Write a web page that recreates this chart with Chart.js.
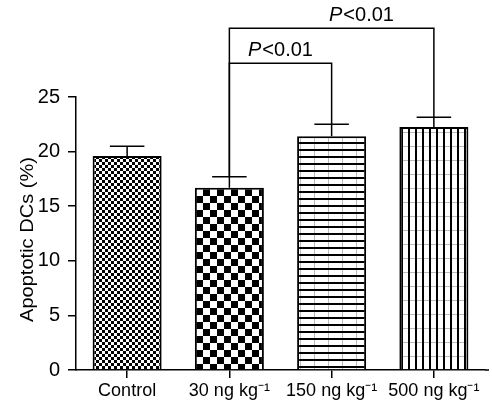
<!DOCTYPE html>
<html>
<head>
<meta charset="utf-8">
<script src="https://cdn.jsdelivr.net/npm/chart.js@4"></script>
<style>
  html, body { margin: 0; padding: 0; background: #fff; }
  canvas { display: block; }
</style>
</head>
<body>
<canvas id="apoChart" width="492" height="405"></canvas>
<script>
// donnees
const categories = ['Control', '30 ng kg\u207B\u00B9', '150 ng kg\u207B\u00B9', '500 ng kg\u207B\u00B9'];
const means = [19.6, 16.7, 21.4, 22.25];
const errors = [0.9, 1.0, 1.1, 0.9];
const yTicks = [0, 5, 10, 15, 20, 25];
const yTitle = 'Apoptotic DCs (%)';
// comparaisons : barre de depart, barre d'arrivee, hauteur du crochet (en %), texte
const compFrom = [1, 1];
const compTo = [2, 3];
const compLevel = [28.1, 31.3];
const compLabel = ['P<0.01', 'P<0.01'];

const FONT = "'Liberation Sans', Arial, sans-serif";

// motifs de remplissage
function makeTile(size, draw) {
    const c = document.createElement('canvas');
    c.width = size; c.height = size;
    const g = c.getContext('2d');
    g.fillStyle = '#fff';
    g.fillRect(0, 0, size, size);
    draw(g);
    return c;
}
const ctx = document.getElementById('apoChart').getContext('2d');

const fineChecker = ctx.createPattern(makeTile(6, g => {
    g.fillStyle = '#000';
    g.fillRect(0, 0, 3, 3);
    g.fillRect(3, 3, 3, 3);
}), 'repeat');

const coarseChecker = ctx.createPattern(makeTile(14, g => {
    g.fillStyle = '#000';
    g.fillRect(0, 0, 7, 7);
    g.fillRect(7, 7, 7, 7);
}), 'repeat');

const hLines = ctx.createPattern(makeTile(14, g => {
    g.fillStyle = '#bbb';
    g.fillRect(6, 0, 1, 14);
    g.fillStyle = '#000';
    g.fillRect(0, 2, 14, 2);
    g.fillRect(0, 9, 14, 2);
}), 'repeat');

const vLines = ctx.createPattern(makeTile(14, g => {
    g.fillStyle = '#bbb';
    g.fillRect(0, 6, 14, 1);
    g.fillStyle = '#000';
    g.fillRect(2, 0, 2, 14);
    g.fillRect(9, 0, 2, 14);
}), 'repeat');

// barres d'erreur + crochets de significativite + titre de l'axe y
const annotations = {
    id: 'annotations',
    afterDatasetsDraw(chart) {
        const c = chart.ctx;
        const y = chart.scales.y;
        const bars = chart.getDatasetMeta(0).data;
        c.save();
        c.strokeStyle = '#000';
        c.lineWidth = 1.5;

        // barres d'erreur (vers le haut seulement)
        bars.forEach((bar, i) => {
            const yTop = y.getPixelForValue(means[i] + errors[i]);
            const yBar = y.getPixelForValue(means[i]);
            const half = bar.width / 4;
            c.beginPath();
            c.moveTo(bar.x, yBar);
            c.lineTo(bar.x, yTop);
            c.moveTo(bar.x - half, yTop);
            c.lineTo(bar.x + half, yTop);
            c.stroke();
        });

        // crochets
        const textPos = [0.5, 0.646];
        compFrom.forEach((from, k) => {
            const to = compTo[k];
            const xL = bars[from].x;
            const xR = bars[to].x;
            const yL = y.getPixelForValue(compLevel[k]);
            c.beginPath();
            c.moveTo(xL, y.getPixelForValue(means[from] + errors[from]));
            c.lineTo(xL, yL);
            c.lineTo(xR, yL);
            c.lineTo(xR, y.getPixelForValue(means[to] + errors[to]));
            c.stroke();

            // texte : P en italique
            const label = compLabel[k];
            const first = label.charAt(0);
            const rest = label.slice(1);
            c.fillStyle = '#000';
            c.textBaseline = 'alphabetic';
            c.textAlign = 'left';
            c.font = 'italic 20px ' + FONT;
            const w1 = c.measureText(first).width + 1;
            c.font = '20px ' + FONT;
            const w2 = c.measureText(rest).width;
            const cx = xL + (xR - xL) * textPos[k];
            const x0 = cx - (w1 + w2) / 2;
            c.font = 'italic 20px ' + FONT;
            c.fillText(first, x0, yL - 7);
            c.font = '20px ' + FONT;
            c.fillText(rest, x0 + w1, yL - 7);
        });

        // l'axe x se prolonge un peu a droite
        const xa = chart.chartArea;
        c.beginPath();
        c.moveTo(xa.right, y.getPixelForValue(0));
        c.lineTo(xa.right + 4, y.getPixelForValue(0));
        c.stroke();

        // titre de l'axe y (un peu etire comme sur l'original)
        c.font = '18px ' + FONT;
        const tw = c.measureText(yTitle).width;
        c.translate(28, (xa.top + xa.bottom) / 2 + 6);
        c.rotate(-Math.PI / 2);
        c.scale(165 / tw, 1);
        c.textAlign = 'center';
        c.textBaseline = 'middle';
        c.fillStyle = '#000';
        c.fillText(yTitle, 0, 0);
        c.restore();
    }
};

const apoChart = new Chart(ctx, {
    type: 'bar',
    data: {
        labels: categories,
        datasets: [{
            data: means,
            backgroundColor: [fineChecker, coarseChecker, hLines, vLines],
            borderColor: '#000',
            borderWidth: 2,
            barPercentage: 0.675,
            categoryPercentage: 1
        }]
    },
    options: {
        responsive: false,
        animation: false,
        events: [],
        layout: { padding: { top: 97, right: 7, bottom: 0, left: 0 } },
        plugins: {
            legend: { display: false },
            tooltip: { enabled: false }
        },
        scales: {
            x: {
                afterFit: s => { s.height = 35; },
                grid: {
                    offset: false,
                    drawOnChartArea: false,
                    drawTicks: true,
                    tickLength: 8,
                    color: '#000',
                    lineWidth: 1.5
                },
                border: { display: true, color: '#000', width: 1.5 },
                ticks: {
                    color: '#000',
                    padding: 2,
                    maxRotation: 0,
                    autoSkip: false,
                    font: { family: FONT, size: 18 }
                }
            },
            y: {
                min: 0,
                max: 25,
                afterFit: s => { s.width = 76; },
                afterBuildTicks: s => { s.ticks = yTicks.map(v => ({ value: v })); },
                grid: {
                    drawOnChartArea: false,
                    drawTicks: true,
                    tickLength: 8,
                    color: '#000',
                    lineWidth: 1.5
                },
                border: { display: true, color: '#000', width: 1.5 },
                ticks: {
                    color: '#000',
                    padding: 8,
                    font: { family: FONT, size: 20 }
                }
            }
        }
    },
    plugins: [annotations]
});
</script>
</body>
</html>
